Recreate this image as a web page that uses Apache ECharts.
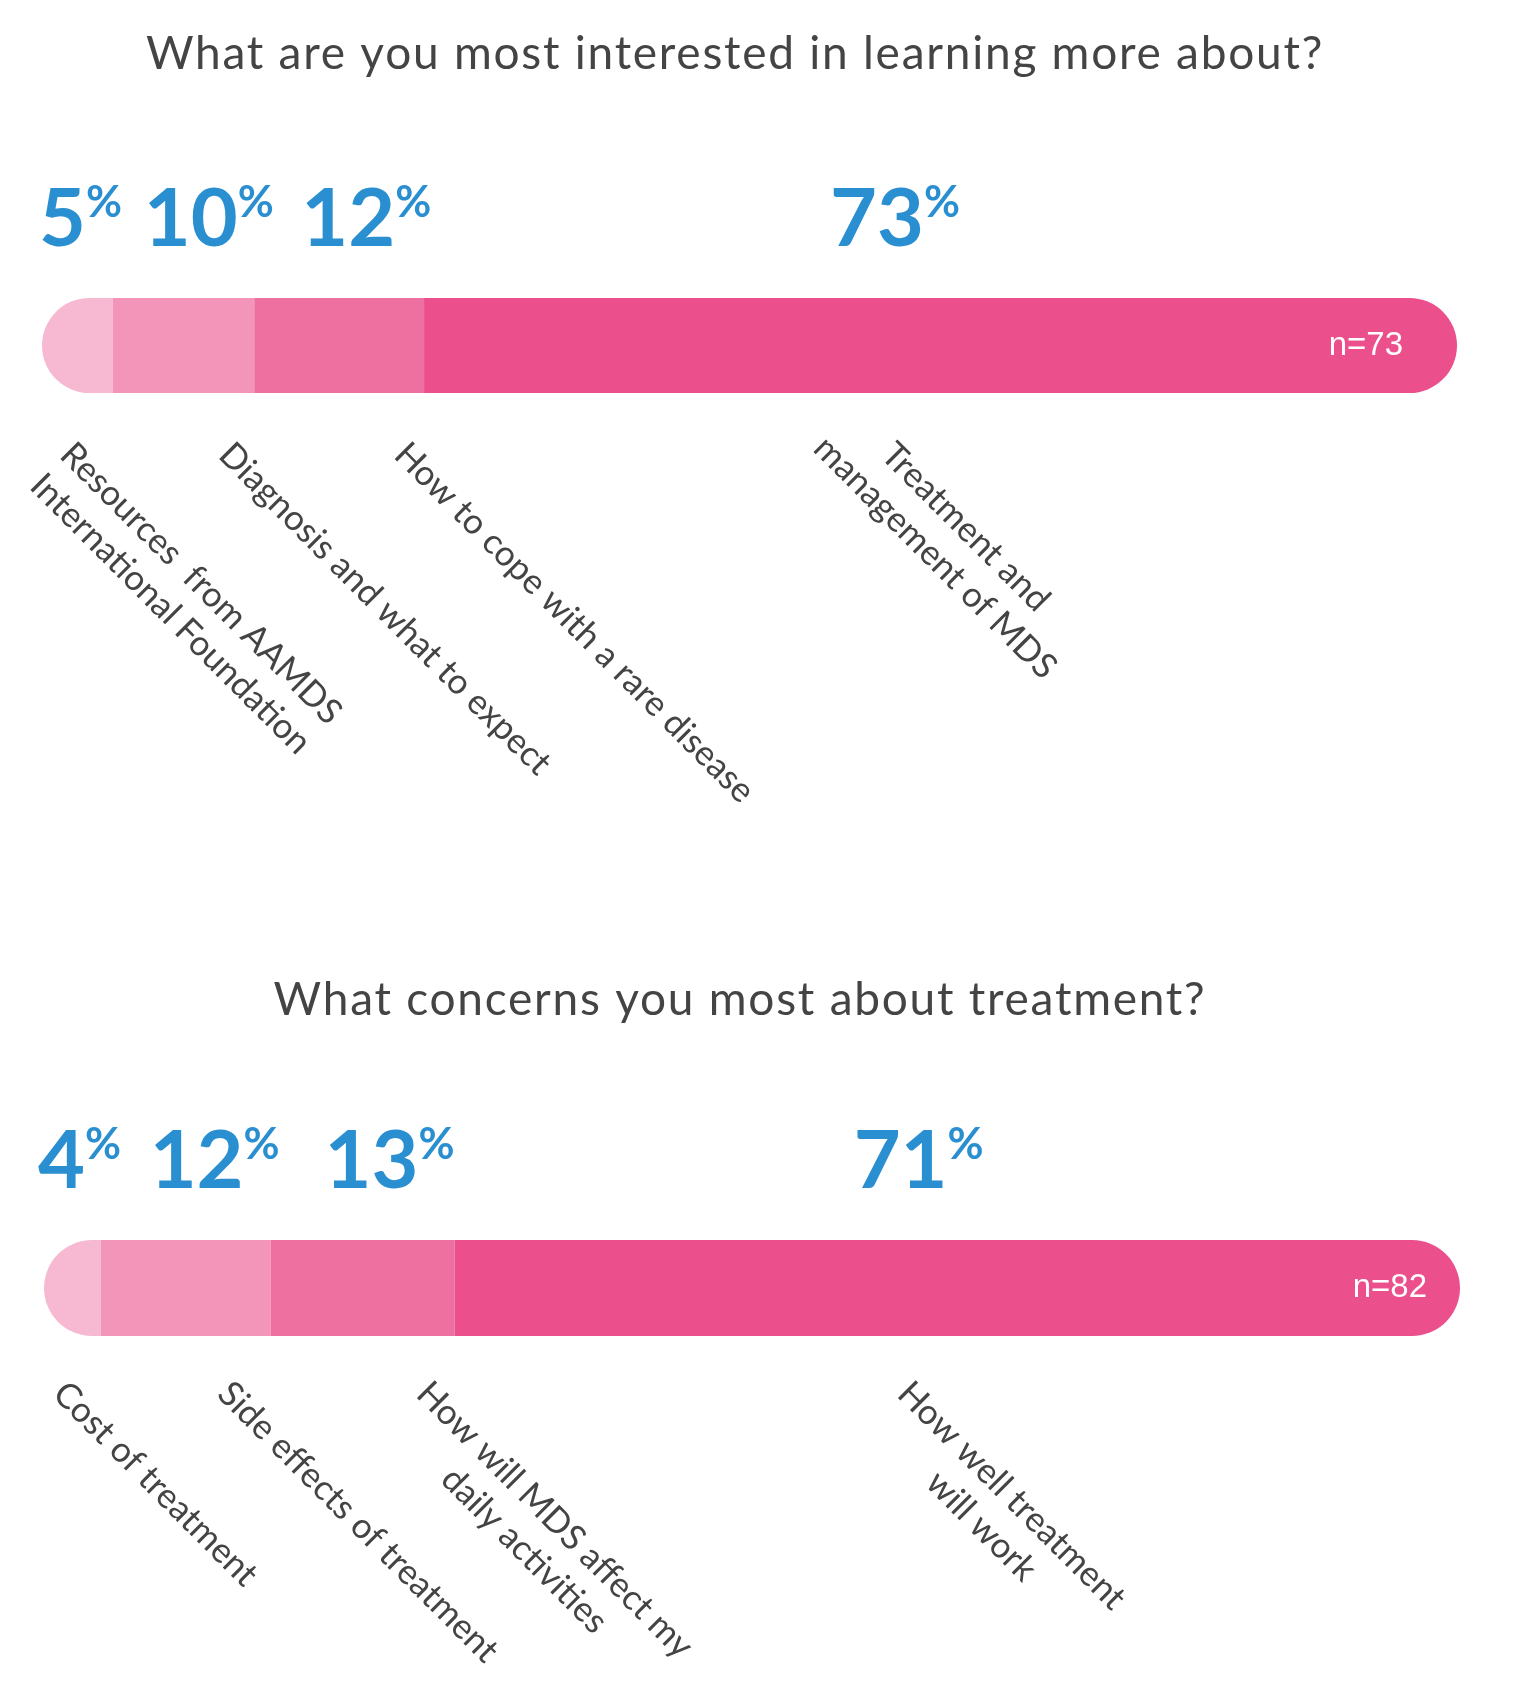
<!DOCTYPE html>
<html>
<head>
<meta charset="utf-8">
<script src="https://cdn.jsdelivr.net/npm/echarts@6/dist/echarts.min.js"></script>
<style>
  html, body { margin: 0; padding: 0; background: #ffffff; }
  #chart { width: 1522px; height: 1684px; }
</style>
</head>
<body>
<div id="chart"></div>
<script>
// ---------------- data ----------------
const q1Title = 'What are you most interested in learning more about?';
const q1Categories = [
  'Resources  from AAMDS\nInternational Foundation',
  'Diagnosis and what to expect',
  'How to cope with a rare disease',
  'Treatment and\nmanagement of MDS'
];
const q1Values = [5, 10, 12, 73];
const q1N = 73;

const q2Title = 'What concerns you most about treatment?';
const q2Categories = [
  'Cost of treatment',
  'Side effects of treatment',
  'How will MDS affect my\ndaily activities',
  'How well treatment\nwill work'
];
const q2Values = [4, 12, 13, 71];
const q2N = 82;

// ---------------- styling / layout constants ----------------
const segColors = ['#f6b9d1', '#f295b8', '#ee70a1', '#eb4f8c'];
const blue = '#2a8fd0';
const gray = '#444444';
const titleFont = { family: 'Lato', size: 46, spacing: 1.75 };
const catFontSize = 35;
const catLineHeight = 43;

const layout = [
  { grid: { left: 42, right: 65, top: 298, height: 95 }, titleCenter: 735, titleTop: 26,
    pctOffset: [-3, 31, 47, 406], catOffset: [33, 121, 155, 472], catDy: 47, nDist: 54 },
  { grid: { left: 44, right: 62, top: 1240, height: 96 }, titleCenter: 740, titleTop: 972,
    pctOffset: [-6, 49, 54, 399], catOffset: [24, 132, 161, 458], catDy: 43, nDist: 33 }
];

const questions = [
  { title: q1Title, cats: q1Categories, values: q1Values, n: q1N },
  { title: q2Title, cats: q2Categories, values: q2Values, n: q2N }
];

const measureCtx = document.createElement('canvas').getContext('2d');
function textWidth(txt, size, family, weight) {
  measureCtx.font = (weight || 'normal') + ' ' + size + 'px ' + family;
  return measureCtx.measureText(txt).width;
}

// the titles are tracked slightly wider (letter-spacing) like the original artwork
const origFillText = CanvasRenderingContext2D.prototype.fillText;
CanvasRenderingContext2D.prototype.fillText = function (t, x, y, m) {
  if (typeof this.font === 'string' && this.font.indexOf(titleFont.size + 'px') >= 0 && 'letterSpacing' in this) {
    const prev = this.letterSpacing;
    this.letterSpacing = titleFont.spacing + 'px';
    const r = m === undefined ? origFillText.call(this, t, x, y) : origFillText.call(this, t, x, y, m);
    this.letterSpacing = prev;
    return r;
  }
  return m === undefined ? origFillText.call(this, t, x, y) : origFillText.call(this, t, x, y, m);
};

const chart = echarts.init(document.getElementById('chart'), null, { renderer: 'canvas' });

const grids = [], xAxes = [], yAxes = [], series = [], titles = [];
questions.forEach((q, gi) => {
  const L = layout[gi];
  grids.push(Object.assign({ containLabel: false }, L.grid));
  xAxes.push({ type: 'value', gridIndex: gi, min: 0, max: 100, show: false });
  yAxes.push({ type: 'category', gridIndex: gi, data: ['q' + gi], show: false });
  const tw = textWidth(q.title, titleFont.size, titleFont.family) + titleFont.spacing * q.title.length;
  titles.push({
    text: q.title, left: L.titleCenter - tw / 2, top: L.titleTop, padding: 0,
    textStyle: { fontFamily: titleFont.family, fontSize: titleFont.size, fontWeight: 'normal', color: gray, lineHeight: 56 }
  });
  const r = L.grid.height / 2;
  q.values.forEach((v, i) => {
    const last = i === q.values.length - 1;
    series.push({
      type: 'bar', name: q.cats[i].replace('\n', ' '), xAxisIndex: gi, yAxisIndex: gi,
      stack: 'stack' + gi, barWidth: L.grid.height, data: [v], silent: true,
      itemStyle: {
        color: segColors[i],
        borderRadius: i === 0 ? [r, 0, 0, r] : (last ? [0, r, r, 0] : 0)
      },
      label: last ? {
        show: true, position: 'insideRight', distance: L.nDist,
        formatter: 'n=' + q.n, color: '#ffffff', fontSize: 33,
        fontFamily: 'Liberation Sans, Arial, sans-serif'
      } : { show: false }
    });
  });
});

chart.setOption({
  backgroundColor: '#ffffff',
  animation: false,
  title: titles,
  grid: grids,
  xAxis: xAxes,
  yAxis: yAxes,
  series: series
});

// ---------------- annotations positioned through the axes ----------------
const graphics = [];
const c45 = Math.SQRT1_2;
questions.forEach((q, gi) => {
  const L = layout[gi];
  const yc = chart.convertToPixel({ yAxisIndex: gi }, 0);
  const barTop = yc - L.grid.height / 2;
  const barBottom = yc + L.grid.height / 2;
  let cum = 0;
  q.values.forEach((v, i) => {
    const startPx = chart.convertToPixel({ xAxisIndex: gi }, cum);
    cum += v;
    // percentage label
    graphics.push({
      type: 'text', x: startPx + L.pctOffset[i], y: barTop - 36, silent: true,
      style: {
        text: '{n|' + v + '}{p|%}', align: 'left', verticalAlign: 'bottom',
        rich: {
          n: { fontFamily: 'Lato', fontSize: 81, fontWeight: 'bold', fill: blue, lineHeight: 84 },
          p: { fontFamily: 'Lato', fontSize: 44, fontWeight: 'bold', fill: blue, lineHeight: 44,
               verticalAlign: 'top', padding: [3, 0, 0, 0] }
        }
      }
    });
    // category label (rotated, centred lines)
    const lines = q.cats[i].split('\n');
    const w1 = textWidth(lines[0], catFontSize, 'Lato');
    const sx = startPx + L.catOffset[i];
    const sy = barBottom + L.catDy;
    const capOff = 9;
    graphics.push({
      type: 'text', silent: true,
      x: sx + (w1 / 2) * c45 + capOff * c45,
      y: sy + (w1 / 2) * c45 - capOff * c45,
      rotation: -Math.PI / 4,
      style: {
        text: q.cats[i], fontFamily: 'Lato', fontSize: catFontSize, fill: gray,
        lineHeight: catLineHeight, align: 'center', verticalAlign: 'top'
      }
    });
  });
});
chart.setOption({ graphic: graphics });
</script>
</body>
</html>
